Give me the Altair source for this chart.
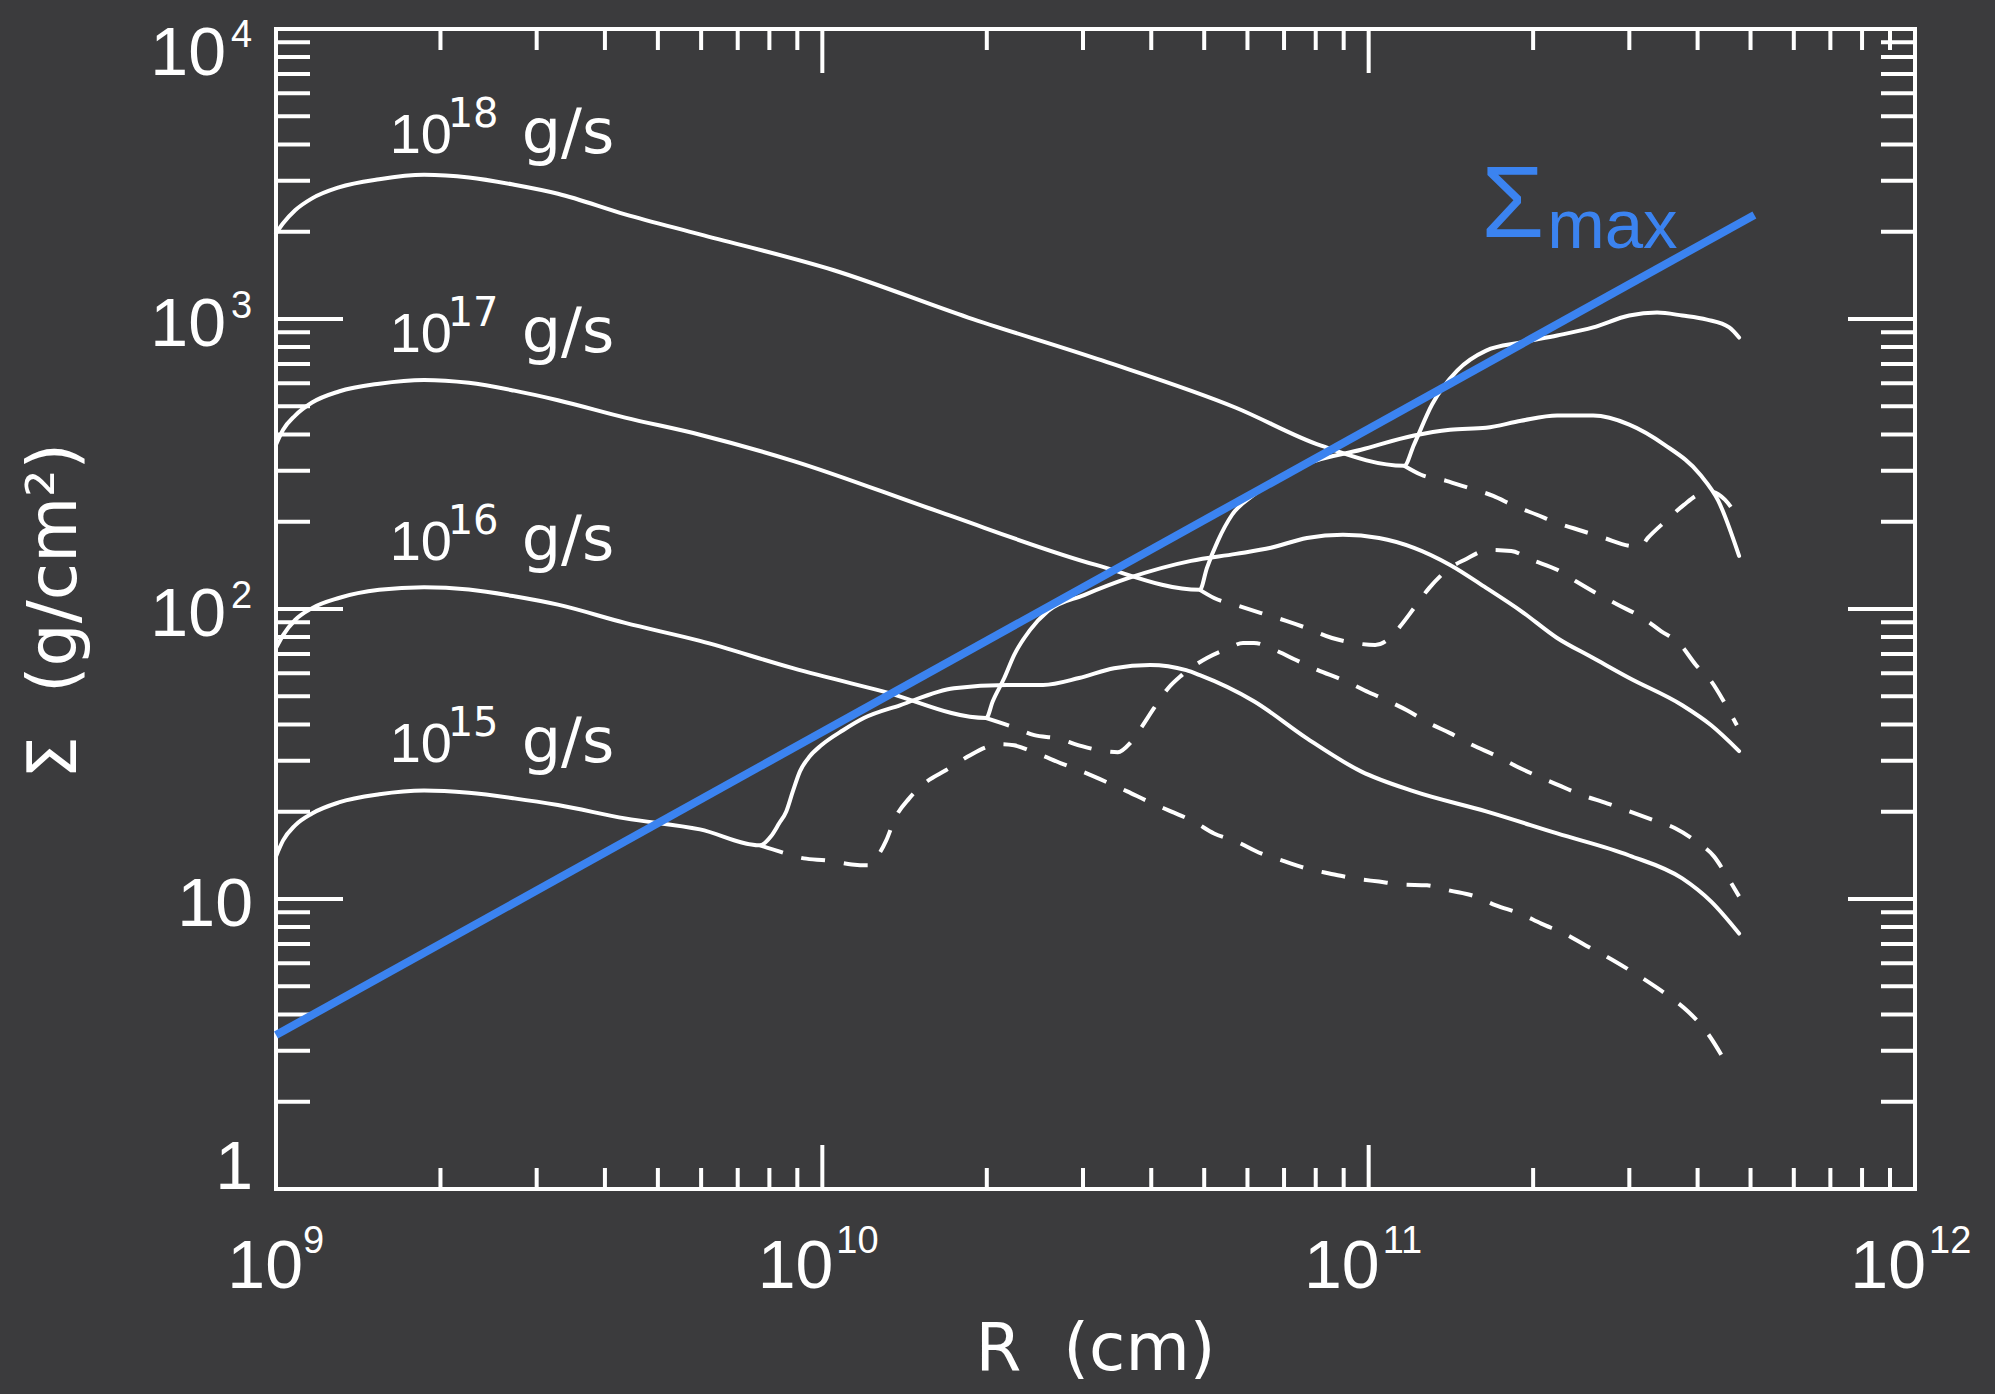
import altair as alt
import pandas as pd

# ---------------- data (log10 values) ----------------
# Solid curves: 10^18, 10^17, 10^16, 10^15 g/s
S18_logR = [9.0, 9.013, 9.035, 9.066, 9.115, 9.189, 9.271, 9.353, 9.436, 9.516,
            9.639, 9.776, 10.021, 10.267, 10.512, 10.757, 10.913, 11.065, 11.083, 11.116,
            11.162, 11.215, 11.279, 11.345, 11.411, 11.477, 11.528, 11.574, 11.619, 11.660,
            11.678]
S18_logS = [3.295, 3.330, 3.375, 3.416, 3.454, 3.482, 3.497, 3.488, 3.463, 3.432,
            3.361, 3.292, 3.168, 3.005, 2.857, 2.694, 2.563, 2.494, 2.567, 2.705,
            2.822, 2.891, 2.919, 2.943, 2.971, 3.012, 3.022, 3.012, 2.998, 2.971,
            2.936]

S17_logR = [9.0, 9.013, 9.035, 9.066, 9.115, 9.189, 9.271, 9.353, 9.436, 9.516, 9.639,
            9.776, 9.946, 10.208, 10.501, 10.691, 10.704, 10.724, 10.750, 10.790, 10.836,
            10.887, 10.986, 11.083, 11.149, 11.215, 11.279, 11.345, 11.411, 11.477, 11.541,
            11.607, 11.640, 11.678]
S17_logS = [2.567, 2.618, 2.667, 2.712, 2.750, 2.777, 2.790, 2.780, 2.753, 2.720, 2.660,
            2.601, 2.511, 2.339, 2.152, 2.066, 2.142, 2.235, 2.325, 2.394, 2.453,
            2.501, 2.549, 2.598, 2.618, 2.625, 2.649, 2.667, 2.667, 2.636, 2.567,
            2.463, 2.373, 2.183]

S16_logR = [9.0, 9.013, 9.035, 9.066, 9.115, 9.189, 9.271, 9.353, 9.436, 9.516, 9.639,
            9.776, 9.946, 10.109, 10.300, 10.312, 10.333, 10.351, 10.380, 10.413, 10.479,
            10.561, 10.675, 10.757, 10.821, 10.887, 10.953, 11.019, 11.083, 11.149, 11.215,
            11.279, 11.345, 11.411, 11.477, 11.574, 11.627, 11.678]
S16_logS = [1.865, 1.910, 1.962, 2.003, 2.038, 2.066, 2.075, 2.067, 2.044, 2.015, 1.952,
            1.890, 1.796, 1.717, 1.624, 1.682, 1.762, 1.841, 1.927, 1.993, 2.048,
            2.107, 2.166, 2.190, 2.211, 2.245, 2.256, 2.245, 2.211, 2.152, 2.073,
            1.993, 1.900, 1.831, 1.762, 1.668, 1.599, 1.510]

S15_logR = [9.0, 9.013, 9.035, 9.066, 9.115, 9.189, 9.271, 9.353, 9.436, 9.516, 9.639,
            9.776, 9.886, 9.906, 9.921, 9.934, 9.946, 9.959, 9.977, 9.998, 10.038,
            10.076, 10.142, 10.241, 10.338, 10.404, 10.470, 10.534, 10.600, 10.666, 10.691,
            10.790, 10.887, 10.986, 11.083, 11.215, 11.345, 11.477, 11.574, 11.627, 11.678]
S15_logS = [1.147, 1.202, 1.254, 1.295, 1.333, 1.361, 1.374, 1.366, 1.347, 1.324, 1.278,
            1.240, 1.185, 1.216, 1.261, 1.302, 1.371, 1.440, 1.492, 1.530, 1.582,
            1.624, 1.668, 1.727, 1.738, 1.738, 1.762, 1.796, 1.807, 1.789, 1.772,
            1.682, 1.554, 1.440, 1.371, 1.302, 1.226, 1.150, 1.071, 0.991, 0.881]

# Dashed curves
D18_logR = [11.065, 11.096, 11.142, 11.182, 11.228, 11.266, 11.308, 11.345, 11.391, 11.431,
            11.477, 11.497, 11.511, 11.544, 11.577, 11.603, 11.627, 11.652, 11.678]
D18_logS = [2.494, 2.463, 2.442, 2.418, 2.390, 2.356, 2.325, 2.297, 2.269, 2.245,
            2.218, 2.214, 2.245, 2.304, 2.359, 2.394, 2.404, 2.377, 2.307]

D17_logR = [10.691, 10.717, 10.763, 10.803, 10.849, 10.887, 10.933, 10.973, 11.012, 11.039,
            11.058, 11.083, 11.111, 11.149, 11.175, 11.220, 11.261, 11.299, 11.345, 11.378,
            11.416, 11.457, 11.502, 11.535, 11.568, 11.599, 11.627, 11.652, 11.674]
D17_logS = [2.066, 2.038, 2.010, 1.986, 1.959, 1.934, 1.900, 1.883, 1.876, 1.900,
            1.941, 2.003, 2.073, 2.142, 2.169, 2.204, 2.200, 2.169, 2.135, 2.097,
            2.055, 2.014, 1.969, 1.924, 1.883, 1.807, 1.751, 1.675, 1.599]

D16_logR = [10.300, 10.345, 10.388, 10.430, 10.475, 10.516, 10.541, 10.563, 10.583, 10.607,
            10.633, 10.658, 10.704, 10.744, 10.770, 10.790, 10.829, 10.867, 10.907, 10.953,
            10.992, 11.032, 11.070, 11.111, 11.149, 11.191, 11.231, 11.270, 11.310, 11.352,
            11.391, 11.436, 11.477, 11.522, 11.561, 11.599, 11.632, 11.656, 11.678]
D16_logS = [1.624, 1.596, 1.565, 1.554, 1.527, 1.510, 1.506, 1.537, 1.589, 1.658,
            1.727, 1.772, 1.831, 1.865, 1.883, 1.883, 1.858, 1.824, 1.789, 1.755,
            1.720, 1.686, 1.651, 1.606, 1.572, 1.530, 1.496, 1.458, 1.423, 1.389,
            1.358, 1.330, 1.302, 1.271, 1.244, 1.199, 1.147, 1.078, 1.009]

D15_logR = [9.886, 9.921, 9.966, 10.009, 10.054, 10.084, 10.098, 10.117, 10.133, 10.159,
            10.192, 10.226, 10.267, 10.305, 10.327, 10.351, 10.391, 10.437, 10.475, 10.517,
            10.558, 10.596, 10.638, 10.679, 10.717, 10.757, 10.803, 10.841, 10.887, 10.928,
            10.973, 11.019, 11.061, 11.107, 11.149, 11.195, 11.233, 11.277, 11.316, 11.358,
            11.398, 11.436, 11.473, 11.511, 11.548, 11.585, 11.614, 11.662]
D15_logS = [1.185, 1.164, 1.140, 1.133, 1.119, 1.116, 1.140, 1.202, 1.278, 1.347,
            1.406, 1.444, 1.492, 1.527, 1.534, 1.530, 1.503, 1.468, 1.440, 1.406,
            1.371, 1.337, 1.302, 1.268, 1.226, 1.199, 1.157, 1.133, 1.105, 1.088,
            1.071, 1.060, 1.050, 1.047, 1.029, 1.009, 0.978, 0.950, 0.915, 0.881,
            0.839, 0.801, 0.760, 0.715, 0.667, 0.611, 0.553, 0.408]

# Sigma_max line (end points)
SMAX_logR = [9.0, 11.706]
SMAX_logS = [0.531, 3.359]

# Curve labels
LABEL_logR = 9.208
LABEL_logS = [3.572, 2.886, 2.169, 1.472]
LABEL_EXP = ["18", "17", "16", "15"]
LABEL_UNIT = "g/s"

# Sigma_max label anchor
SMAX_LABEL_logR = 11.206
SMAX_LABEL_logS = 3.283

# Axis titles
X_TITLE = "R\u00a0\u00a0(cm)"
Y_TITLE = "\u03a3\u00a0\u00a0(g/cm\u00b2)"

# Axis tick values / labels
X_LABEL_VALS = [1e9, 1e10, 1e11, 1e12]
X_LABEL_EXP = ["9", "10", "11", "12"]
Y_LABEL_VALS = [1, 10, 100, 1000, 10000]
Y_LABEL_BASE = ["1", "10", "10", "10", "10"]
Y_LABEL_EXP = ["", "", "2", "3", "4"]
X_MAJOR = [1e10, 1e11]
X_MINOR = [k * 10.0 ** e for e in (9, 10, 11) for k in range(2, 10)]
Y_MAJOR = [10, 100, 1000]
Y_MINOR = [k * 10.0 ** e for e in (0, 1, 2, 3) for k in range(2, 10)]

# ---------------- styles ----------------
FONT = "Liberation Sans"
WIDE = "DejaVu Sans"
BG = "#3b3b3d"
BLUE = "#3b83f0"
W, H = 1639, 1160

curves = [
    ("S18", "solid", S18_logR, S18_logS), ("S17", "solid", S17_logR, S17_logS),
    ("S16", "solid", S16_logR, S16_logS), ("S15", "solid", S15_logR, S15_logS),
    ("D18", "dashed", D18_logR, D18_logS), ("D17", "dashed", D17_logR, D17_logS),
    ("D16", "dashed", D16_logR, D16_logS), ("D15", "dashed", D15_logR, D15_logS),
]
rows = []
for name, style, lr, ls in curves:
    for i, (a, b) in enumerate(zip(lr, ls)):
        rows.append({"series": name, "style": style, "idx": i, "R": 10 ** a, "S": 10 ** b})
df = pd.DataFrame(rows)

xs = alt.Scale(type="log", domain=[1e9, 1e12], nice=False)
ys = alt.Scale(type="log", domain=[1, 1e4], nice=False)
XQ = alt.X("R:Q", scale=xs, axis=None)
YQ = alt.Y("S:Q", scale=ys, axis=None)

solid = alt.Chart(df).transform_filter(alt.datum.style == "solid").mark_line(
    color="white", strokeWidth=4, strokeJoin="round", strokeCap="round", interpolate="monotone"
).encode(x=XQ, y=YQ, detail="series:N", order="idx:Q")
dashed = alt.Chart(df).transform_filter(alt.datum.style == "dashed").mark_line(
    color="white", strokeWidth=4, strokeDash=[24, 19], interpolate="monotone"
).encode(x=XQ, y=YQ, detail="series:N", order="idx:Q")

blue_df = pd.DataFrame({"R": [10 ** v for v in SMAX_logR], "S": [10 ** v for v in SMAX_logS]})
blue = alt.Chart(blue_df).mark_line(color=BLUE, strokeWidth=8).encode(x=XQ, y=YQ)


def xticks(vals, y0, y1):
    return alt.Chart(pd.DataFrame({"v": vals})).mark_rule(color="white", strokeWidth=4).encode(
        x=alt.X("v:Q", scale=xs, axis=None), y=alt.value(y0), y2=alt.value(y1))


def yticks(vals, x0, x1):
    return alt.Chart(pd.DataFrame({"v": vals})).mark_rule(color="white", strokeWidth=4).encode(
        y=alt.Y("v:Q", scale=ys, axis=None), x=alt.value(x0), x2=alt.value(x1))


ticks = [
    xticks(X_MINOR, 0, 21), xticks(X_MAJOR, 0, 44),
    xticks(X_MINOR, H - 21, H), xticks(X_MAJOR, H - 44, H),
    yticks(Y_MINOR, 0, 34), yticks(Y_MAJOR, 0, 67),
    yticks(Y_MINOR, W - 34, W), yticks(Y_MAJOR, W - 67, W),
]

# curve labels
lab = pd.DataFrame({"R": [10 ** LABEL_logR] * 4, "S": [10 ** v for v in LABEL_logS],
                    "b": ["10"] * 4, "e": LABEL_EXP, "u": [LABEL_UNIT] * 4})
lab_base = alt.Chart(lab).mark_text(align="left", baseline="alphabetic", font=FONT, fontSize=56,
                                    color="white").encode(text="b:N", x=XQ, y=YQ)
lab_exp = alt.Chart(lab).mark_text(align="left", baseline="alphabetic", font=WIDE, fontSize=40,
                                   color="white", dx=58, dy=-26).encode(text="e:N", x=XQ, y=YQ)
lab_unit = alt.Chart(lab).mark_text(align="left", baseline="alphabetic", font=WIDE, fontSize=62,
                                    color="white", dx=132).encode(text="u:N", x=XQ, y=YQ)

# Sigma_max label
sm = pd.DataFrame({"R": [10 ** SMAX_LABEL_logR], "S": [10 ** SMAX_LABEL_logS],
                   "t1": ["\u03a3"], "t2": ["max"]})
sm_sigma = alt.Chart(sm).mark_text(align="left", baseline="alphabetic", font=FONT, fontSize=102,
                                   color=BLUE).encode(text="t1:N", x=XQ, y=YQ)
sm_max = alt.Chart(sm).mark_text(align="left", baseline="alphabetic", font=FONT, fontSize=69,
                                 color=BLUE, dx=66, dy=11).encode(text="t2:N", x=XQ, y=YQ)

# axis titles
titles = pd.DataFrame({"t": [X_TITLE, Y_TITLE], "which": ["x", "y"]})
x_title = alt.Chart(titles).transform_filter(alt.datum.which == "x").mark_text(
    align="center", baseline="alphabetic", font=WIDE, fontSize=66, color="white"
).encode(text="t:N", x=alt.value(W / 2), y=alt.value(H + 181))
y_title = alt.Chart(titles).transform_filter(alt.datum.which == "y").mark_text(
    align="center", baseline="alphabetic", font=WIDE, fontSize=68, color="white", angle=270
).encode(text="t:N", x=alt.value(-200), y=alt.value(H / 2 + 2))

# x tick labels
xl = pd.DataFrame({"v": X_LABEL_VALS, "b": ["10"] * 4, "e": X_LABEL_EXP})
xl_x = alt.X("v:Q", scale=xs, axis=None)
one = "length(datum.e) == 1"
two = "length(datum.e) == 2"


def xlab(flt, align, size, dx, ypix, field):
    return alt.Chart(xl).transform_filter(flt).mark_text(
        align=align, baseline="alphabetic", font=FONT, fontSize=size, color="white", dx=dx
    ).encode(x=xl_x, y=alt.value(ypix), text=field)


xl_layers = [
    xlab(one, "right", 68, 27, H + 99, "b:N"),
    xlab(two, "right", 68, 11, H + 99, "b:N"),
    xlab(one, "left", 38, 27, H + 64, "e:N"),
    xlab(two, "left", 38, 14, H + 64, "e:N"),
]

# y tick labels
yl = pd.DataFrame({"v": Y_LABEL_VALS, "b": Y_LABEL_BASE, "e": Y_LABEL_EXP})
yl_y = alt.Y("v:Q", scale=ys, axis=None)


def ylab(flt, align, size, xpix, dy, field):
    return alt.Chart(yl).transform_filter(flt).mark_text(
        align=align, baseline="alphabetic", font=FONT, fontSize=size, color="white", dy=dy
    ).encode(y=yl_y, x=alt.value(xpix), text=field)


yl_layers = [
    ylab("datum.v == 1", "right", 68, -23, 0, "b:N"),
    ylab("datum.v == 10", "right", 68, -23, 27, "b:N"),
    ylab("datum.v == 100 || datum.v == 1000", "right", 68, -50, 27, "b:N"),
    ylab("datum.v == 100 || datum.v == 1000", "left", 38, -45, -1, "e:N"),
    ylab("datum.v == 10000", "right", 68, -50, 46, "b:N"),
    ylab("datum.v == 10000", "left", 38, -45, 18, "e:N"),
]

chart = alt.layer(
    solid, dashed, *ticks, blue, lab_base, lab_exp, lab_unit, sm_sigma, sm_max,
    x_title, y_title, *xl_layers, *yl_layers
).properties(
    width=W, height=H,
    autosize=alt.AutoSizeParams(type="none"),
    padding={"left": 276, "top": 29, "right": 80, "bottom": 205},
).configure(background=BG).configure_view(stroke="white", strokeWidth=4)

chart.save("out.html", embed_options={"renderer": "svg", "actions": False})
